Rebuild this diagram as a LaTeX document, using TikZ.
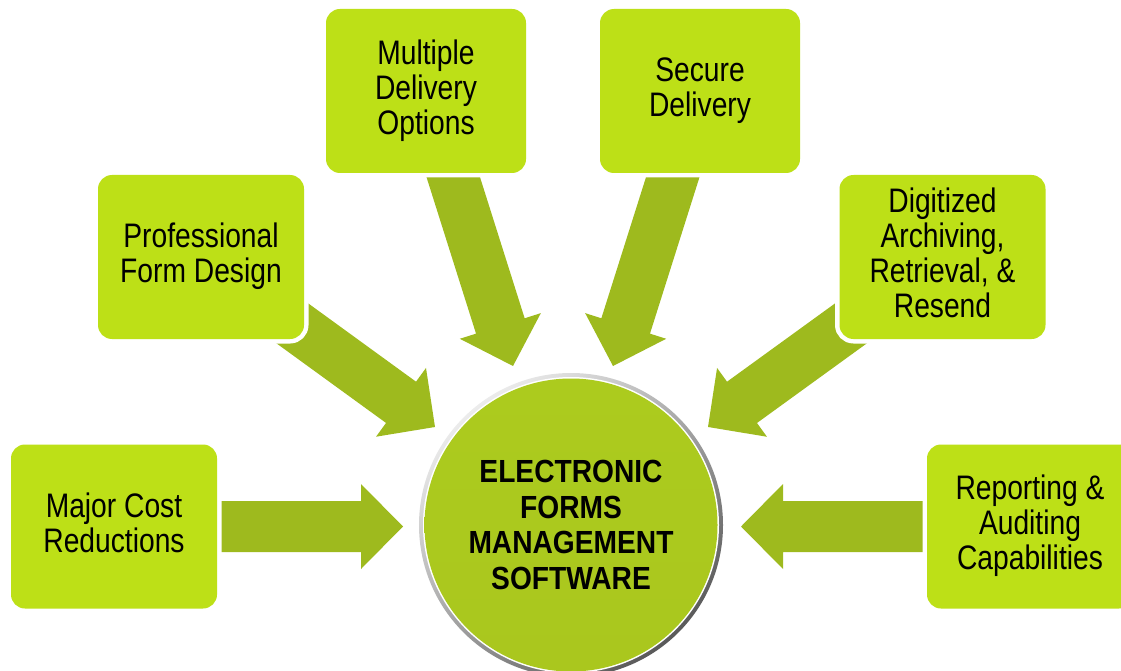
\documentclass[tikz,border=0pt]{standalone}
\usepackage{fontspec}
\usetikzlibrary{calc}
\newfontfamily\boxfont{Liberation Sans}[FakeStretch=0.83]
\newfontfamily\hubfont{Liberation Sans}[FakeStretch=0.88]
\definecolor{boxgreen}{RGB}{189,224,23}
\definecolor{arrowgreen}{RGB}{158,186,30}
\definecolor{hubtop}{RGB}{172,203,30}
\definecolor{hubmid}{RGB}{202,238,24}
\definecolor{hubbot}{RGB}{170,199,30}
\pgfdeclarelayer{background}
\pgfsetlayers{background,main}

% block arrow from the centre of node #1 to the tip coordinate #2
\newcommand\flowarrow[2]{%
  \path ($(#2)!42pt!(#1.center)$) coordinate (#2b);
  \fill[arrowgreen]
    ($(#1.center)!25.5pt!90:(#2)$) -- ($(#2b)!25.5pt!90:(#2)$) --
    ($(#2b)!42.5pt!90:(#2)$) -- (#2) -- ($(#2b)!42.5pt!-90:(#2)$) --
    ($(#2b)!25.5pt!-90:(#2)$) -- ($(#1.center)!25.5pt!-90:(#2)$) -- cycle;
}

\tikzset{
  feature/.style={rectangle, rounded corners=14pt, fill=boxgreen,
    preaction={draw=white, line width=9pt},
    minimum height=164pt, inner sep=0pt, align=center,
    font=\boxfont\fontsize{34}{35}\selectfont,
    execute at begin node={\rule{0pt}{33pt}},
    execute at end node={\rule[-8pt]{0pt}{8pt}}},
  wide/.style={minimum width=206pt},
  narrow/.style={minimum width=200pt},
  ring/.style={top color=gray!15, bottom color=black!65, shading angle=40},
  hub/.style={circle, minimum size=293pt, inner sep=0pt,
    top color=hubtop, middle color=hubmid, bottom color=hubbot,
    align=center, font=\hubfont\bfseries\fontsize{32}{35.8}\selectfont},
}

\begin{document}
\begin{tikzpicture}[x=1pt, y=-1pt]
  \useasboundingbox (0,0) rectangle (1121,671);
  \clip (0,0) rectangle (1121,671);

  % feature boxes
  \node[feature, wide]   (cost)    at (114,526.5) {Major Cost\\Reductions};
  \node[feature, wide]   (report)  at (1030,526.5) {Reporting \&\\Auditing\\Capabilities};
  \node[feature, wide]   (design)  at (201,257) {Professional\\Form Design};
  \node[feature, wide]   (archive) at (942.5,257) {Digitized\\Archiving,\\Retrieval, \&\\Resend};
  \node[feature, narrow] (multi)   at (426,91) {Multiple\\Delivery\\Options};
  \node[feature, narrow] (secure)  at (700,91) {Secure\\Delivery};

  % arrow tips around the hub
  \coordinate (costtip)    at (403,526.5);
  \coordinate (reporttip)  at (741,526.5);
  \coordinate (designtip)  at (435,427);
  \coordinate (archivetip) at (708,427);
  \coordinate (multitip)   at (513,366);
  \coordinate (securetip)  at (613,366);

  \begin{pgfonlayer}{background}
    \flowarrow{cost}{costtip}
    \flowarrow{report}{reporttip}
    \flowarrow{design}{designtip}
    \flowarrow{archive}{archivetip}
    \flowarrow{multi}{multitip}
    \flowarrow{secure}{securetip}
  \end{pgfonlayer}

  % central hub with its rim
  \coordinate (hubc) at (571,525);
  \shade[ring] (hubc) circle (152pt);
  \fill[white] (hubc) circle (148pt);
  \node[hub] (hub) at (hubc) {ELECTRONIC\\FORMS\\MANAGEMENT\\SOFTWARE};
\end{tikzpicture}
\end{document}
